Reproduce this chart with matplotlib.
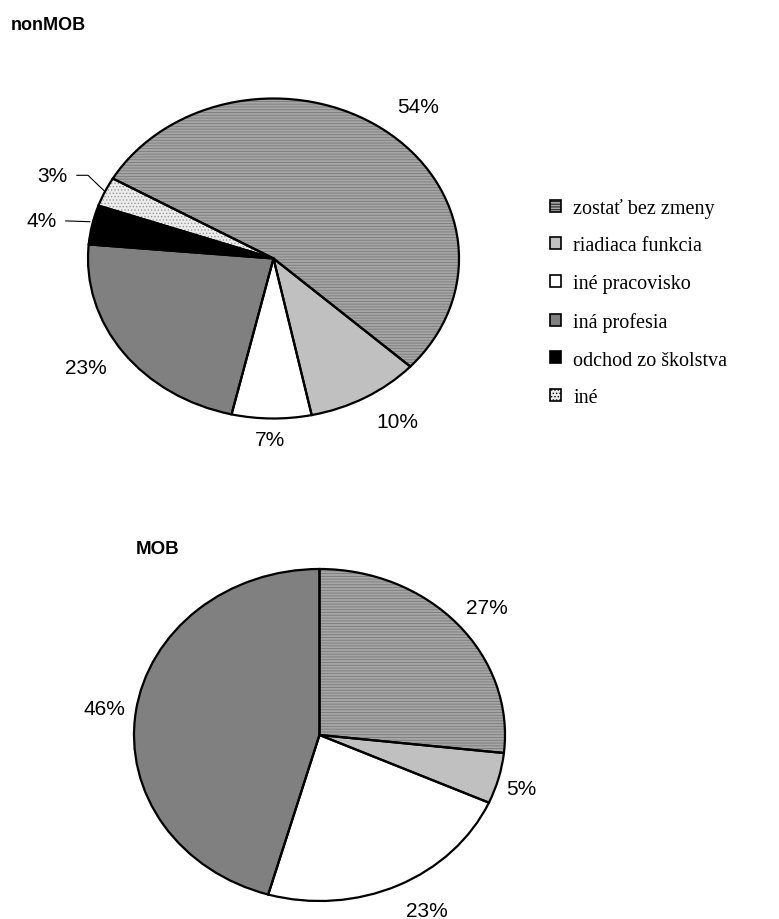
import matplotlib
matplotlib.use("Agg")
import matplotlib.pyplot as plt
from matplotlib.patches import Patch

categories = ["zostať bez zmeny", "riadiaca funkcia", "iné pracovisko",
              "iná profesia", "odchod zo školstva", "iné"]
nonmob_values = [54, 10, 7, 23, 4, 3]
mob_values = [27, 5, 23, 46, 0, 0]

# fill styles per category
face = ["#a6a6a6", "#c0c0c0", "#ffffff", "#808080", "#000000", "#ececec"]
hatches = ["------", None, None, None, None, "....."]
hatch_colors = ["#7a7a7a", None, None, None, None, "#9a9a9a"]

# label positions in pie units (x to the right, y up, radius 1)
nonmob_label_xy = [(0.78, 0.95), (0.67, -1.02), (-0.02, -1.13),
                   (-1.01, -0.68), (-1.25, 0.24), (-1.19, 0.52)]
mob_label_xy = [(0.90, 0.77), (1.09, -0.32), (0.58, -1.06), (-1.16, 0.16)]

W, H = 779, 920
plt.rcParams["hatch.linewidth"] = 0.6
SANS = ["Liberation Sans", "DejaVu Sans"]
SERIF = ["Liberation Serif", "DejaVu Serif"]

fig = plt.figure(figsize=(W / 100, H / 100), dpi=100)


def pie_axes(cx, cy, rx, ry, pad=1.3):
    left = cx - pad * rx
    top = cy - pad * ry
    return fig.add_axes([left / W, 1 - (top + 2 * pad * ry) / H,
                         2 * pad * rx / W, 2 * pad * ry / H])


def draw_pie(ax, values, startangle, label_xy):
    keep = [i for i, v in enumerate(values) if v > 0]
    vals = [values[i] for i in keep]
    fills, _ = ax.pie(vals, startangle=startangle, counterclock=False,
                      colors=[face[i] for i in keep],
                      wedgeprops=dict(linewidth=0))
    for w, i in zip(fills, keep):
        if hatches[i]:
            w.set_hatch(hatches[i])
            w.set_edgecolor(hatch_colors[i])
    ax.pie(vals, startangle=startangle, counterclock=False,
           colors=["none"] * len(vals),
           wedgeprops=dict(linewidth=1.6, edgecolor="black"))
    ax.set_aspect("auto")
    ax.set_xlim(-1.3, 1.3)
    ax.set_ylim(-1.3, 1.3)
    for (x, y), v in zip(label_xy, vals):
        ax.text(x, y, f"{v}%", ha="center", va="center", fontsize=15,
                family=SANS)


ax_top = pie_axes(273.5, 259.5, 185.5, 160)
draw_pie(ax_top, nonmob_values, 150, nonmob_label_xy)
# leader lines for the two thin slices
ax_top.plot([-1.06, -1.0, -0.91], [0.52, 0.52, 0.42], color="black",
            lw=0.8, clip_on=False)
ax_top.plot([-1.12, -0.99], [0.235, 0.23], color="black", lw=0.8,
            clip_on=False)

ax_bot = pie_axes(319.5, 736, 185.5, 166)
draw_pie(ax_bot, mob_values, 90, mob_label_xy)

fig.text(11 / W, 1 - 30 / H, "nonMOB", fontsize=13, fontweight="bold",
         family=SANS, va="baseline")
fig.text(136 / W, 1 - 554 / H, "MOB", fontsize=13.5, fontweight="bold",
         family=SANS, va="baseline")

handles = [Patch(facecolor=face[i], edgecolor="black", hatch=hatches[i],
                 linewidth=1.2) for i in range(len(categories))]
fig.legend(handles, categories, loc="center left",
           bbox_to_anchor=(550 / W, 1 - 303.5 / H), frameon=False,
           prop={"family": SERIF, "size": 14.5}, handlelength=0.55,
           handleheight=0.55, handletextpad=0.6, labelspacing=0.93,
           borderpad=0, borderaxespad=0)

fig.savefig("out.png", dpi=100)
